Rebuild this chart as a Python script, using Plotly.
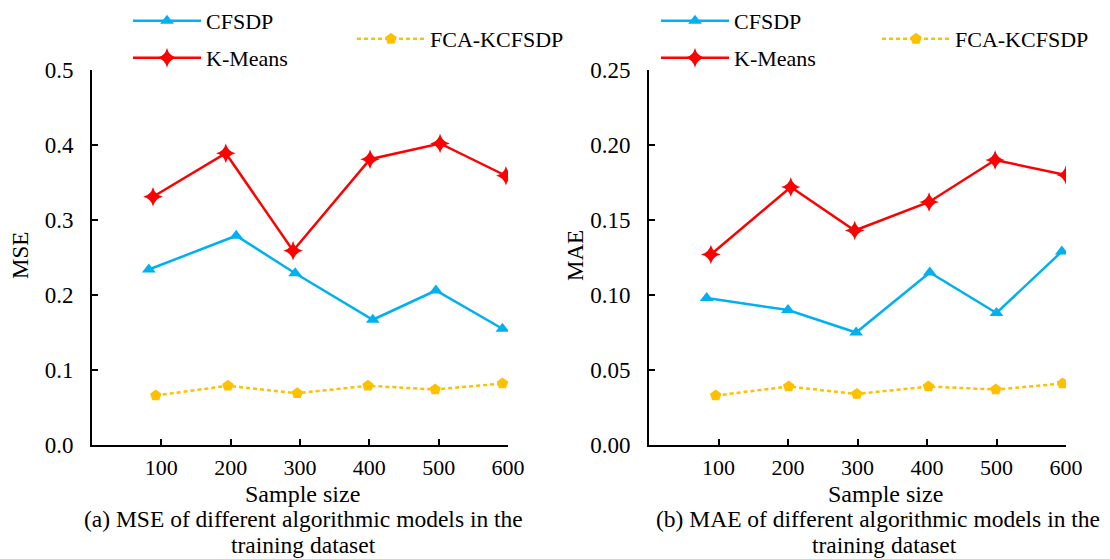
import plotly.graph_objects as go

# ---- data ----
mse_x_cfsdp = [82, 208, 293, 405, 496, 592]
mse_cfsdp = [0.234, 0.279, 0.229, 0.167, 0.206, 0.155]
mse_x_kmeans = [88, 193, 290, 401, 502, 597]
mse_kmeans = [0.331, 0.389, 0.259, 0.381, 0.402, 0.359]
mse_x_fca = [92, 196, 296, 398, 495, 592]
mse_fca = [0.066, 0.079, 0.069, 0.079, 0.074, 0.082]

mae_x_cfsdp = [83, 200, 298, 404, 500, 594]
mae_cfsdp = [0.098, 0.090, 0.075, 0.115, 0.088, 0.129]
mae_x_kmeans = [89, 204, 296, 403, 498, 600]
mae_kmeans = [0.127, 0.172, 0.143, 0.162, 0.190, 0.180]
mae_x_fca = [96, 201, 299, 402, 499, 595]
mae_fca = [0.033, 0.039, 0.034, 0.039, 0.037, 0.041]

x_ticks = [100, 200, 300, 400, 500, 600]
mse_ticks = [0.0, 0.1, 0.2, 0.3, 0.4, 0.5]
mae_ticks = [0.00, 0.05, 0.10, 0.15, 0.20, 0.25]

names = ["CFSDP", "K-Means", "FCA-KCFSDP"]
colors = ["#00B0F0", "#FF0000", "#FFC000"]
symbols = ["triangle-up", "star-diamond", "pentagon"]
sizes = [12, 14, 12]
dashes = ["solid", "solid", "4px,3px"]

FONT = "Liberation Serif"
W, H = 1110, 559

fig = go.Figure()

panels = [
    ("x", "y", [(mse_x_cfsdp, mse_cfsdp), (mse_x_kmeans, mse_kmeans), (mse_x_fca, mse_fca)]),
    ("x2", "y2", [(mae_x_cfsdp, mae_cfsdp), (mae_x_kmeans, mae_kmeans), (mae_x_fca, mae_fca)]),
]
legend_ids = [["legend", "legend2", "legend3"], ["legend4", "legend5", "legend6"]]
for p, (xa, ya, series) in enumerate(panels):
    for i, (xs, ys) in enumerate(series):
        fig.add_trace(go.Scatter(
            x=xs, y=ys, name=names[i], xaxis=xa, yaxis=ya, mode="lines+markers",
            line=dict(color=colors[i], width=2.5, dash=dashes[i]),
            marker=dict(symbol=symbols[i], size=sizes[i], color=colors[i]),
            legend=legend_ids[p][i], showlegend=True,
        ))

def px_x(v):
    return v / W

def px_y(v):
    return 1 - v / H

axis_common = dict(
    showline=True, linecolor="black", linewidth=2, ticks="inside", ticklen=6,
    tickwidth=2, tickcolor="black", showgrid=False, zeroline=False, mirror=False,
    automargin=False,
)
xfont = dict(family=FONT, size=22, color="black")
yfont = dict(family=FONT, size=23, color="black")

fig.update_layout(
    width=W, height=H, margin=dict(l=0, r=0, t=0, b=0, autoexpand=False),
    paper_bgcolor="white", plot_bgcolor="white",
    font=dict(family=FONT, size=22, color="black"),
    xaxis=dict(domain=[px_x(92), px_x(508)], range=[0, 600], tickvals=x_ticks,
               anchor="y", ticklabelstandoff=2, tickfont=xfont, **axis_common),
    yaxis=dict(domain=[px_y(445), px_y(70)], range=[0, 0.5], tickvals=mse_ticks,
               tickformat=".1f", anchor="x", ticklabelstandoff=12, tickfont=yfont,
               **axis_common),
    xaxis2=dict(domain=[px_x(649), px_x(1066)], range=[0, 600], tickvals=x_ticks,
                anchor="y2", ticklabelstandoff=2, tickfont=xfont, **axis_common),
    yaxis2=dict(domain=[px_y(445), px_y(70)], range=[0, 0.25], tickvals=mae_ticks,
                tickformat=".2f", anchor="x2", ticklabelstandoff=12, tickfont=yfont,
                **axis_common),
)

legend_pos = {
    "legend": (128, 21), "legend2": (128, 58), "legend3": (352, 39),
    "legend4": (656, 21), "legend5": (656, 58), "legend6": (877, 39),
}
for lid, (lx, ly) in legend_pos.items():
    fig.update_layout(**{lid: dict(
        x=px_x(lx), y=px_y(ly), xanchor="left", yanchor="middle",
        xref="container", yref="container",
        bgcolor="rgba(0,0,0,0)", font=dict(family=FONT, size=22, color="black"),
        itemwidth=68,
    )})

annots = [
    ("MSE", 20, 256, -90, 23), ("MAE", 575, 256, -90, 23),
    ("Sample size", 302, 494, 0, 24), ("Sample size", 885, 494, 0, 24),
    ("(a) MSE of different algorithmic models in the", 303, 519, 0, 23.5),
    ("training dataset", 303, 545, 0, 23.5),
    ("(b) MAE of different algorithmic models in the", 878, 519, 0, 23.5),
    ("training dataset", 884, 545, 0, 23.5),
]
for text, ax_, ay_, ang, fs in annots:
    fig.add_annotation(text=text, x=px_x(ax_), y=px_y(ay_), xref="paper", yref="paper",
                       showarrow=False, textangle=ang, xanchor="center", yanchor="middle",
                       font=dict(family=FONT, size=fs, color="black"))

fig.write_html("out.html")
